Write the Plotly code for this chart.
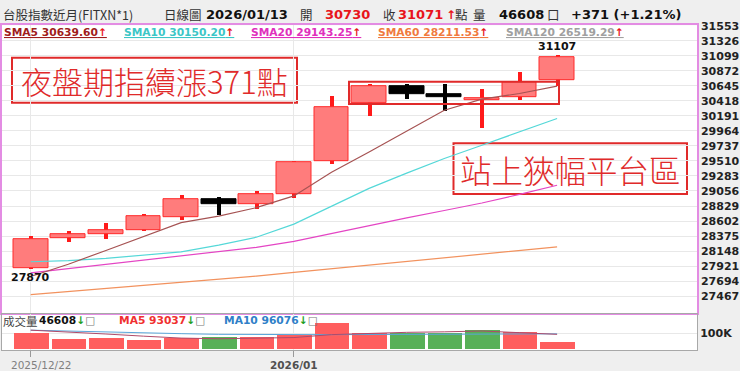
import plotly.graph_objects as go

W, H = 740, 371

# ---------------- data ----------------
idx = list(range(15))
x_tick_pos = [0, 7]
x_tick_text = ["2025/12/22", "2026/01"]

opens = [27887, 28348, 28407, 28466, 28666, 28938, 28853, 29012, 29507, 30375, 30636, 30513, 30428, 30473, 30730]
highs = [28368, 28447, 28571, 28705, 28993, 28963, 29052, 29513, 30488, 30672, 30676, 30676, 30598, 30850, 31107]
lows = [27870, 28281, 28333, 28447, 28615, 28689, 28779, 28953, 29462, 30190, 30449, 30265, 30003, 30424, 30636]
closes = [28333, 28407, 28466, 28680, 28938, 28863, 29012, 29487, 30315, 30636, 30520, 30470, 30455, 30700, 31071]

sma5 = [27764, 27949, 28158, 28367, 28577, 28677, 28804, 28982, 29339, 29645, 29963, 30275, 30443, 30528, 30640]
sma10 = [27987, 28004, 28037, 28088, 28137, 28239, 28358, 28556, 28825, 29095, 29325, 29547, 29747, 29948, 30150]
sma20 = [27819, 27883, 27946, 28012, 28076, 28141, 28205, 28294, 28414, 28536, 28650, 28761, 28875, 29005, 29143]
sma60 = [27492, 27538, 27585, 27632, 27678, 27725, 27771, 27828, 27883, 27938, 27993, 28046, 28101, 28155, 28211]
sma_names = ["SMA5", "SMA10", "SMA20", "SMA60", "SMA120"]
sma_last = [30639.60, 30150.20, 29143.25, 28211.53, 26519.29]

volumes = [95600, 63700, 69600, 54300, 69600, 75500, 75500, 83800, 158000, 95600, 99000, 99000, 119000, 103000, 46608]
vol_ma5 = [118000, 108000, 95000, 82000, 70600, 66500, 68700, 73700, 91300, 98400, 105000, 108000, 113000, 103000, 93037]
vol_ma10 = [118000, 112000, 106000, 101000, 97000, 93000, 91000, 90000, 91000, 92000, 93000, 94000, 95000, 96500, 96076]

price_ticks = [27467, 27694, 27921, 28148, 28375, 28602, 28829, 29056, 29283, 29510,
               29737, 29964, 30191, 30418, 30645, 30872, 31099, 31326, 31553]
price_tick_text = [str(v) for v in price_ticks]
vol_ticks = [100000]
vol_tick_text = ["100K"]

title_name = "台股指數近月(FITXN*1)"
chart_kind = "日線圖"
chart_date = "2026/01/13"
note1 = "夜盤期指續漲371點"
note2 = "站上狹幅平台區"

# ---------------- helpers ----------------
def px(x):
    return x / W


def py(y):
    return 1 - y / H


NUM = "DejaVu Sans"
CJK = "Noto Sans CJK TC"
RED = "#E8141B"

up = [c >= o for o, c in zip(opens, closes)]
wick_colors = ["#FF1A1A" if u else "#000000" for u in up]
body_fill = ["#FF7C7C" if u else "#000000" for u in up]
body_line = ["#FF2A2A" if u else "#000000" for u in up]
body_base = [min(o, c) for o, c in zip(opens, closes)]
body_h = [abs(c - o) for o, c in zip(opens, closes)]
wick_h = [h - l for h, l in zip(highs, lows)]
vol_colors = ["#FF5E5E" if (i == 0 or closes[i] >= closes[i - 1]) else "#58B058" for i in idx]

fig = go.Figure()

# moving averages
for vals, col in [(sma60, "#F2925E"), (sma20, "#E445C4"), (sma10, "#55D8D8"), (sma5, "#A65353")]:
    fig.add_trace(go.Scatter(x=idx, y=vals, mode="lines", line=dict(color=col, width=1.2),
                             xaxis="x", yaxis="y", hoverinfo="skip", showlegend=False))

# candles: wicks then bodies
fig.add_trace(go.Bar(x=idx, y=wick_h, base=lows, width=0.11, marker=dict(color=wick_colors, line=dict(width=0)),
                     xaxis="x", yaxis="y", hoverinfo="skip", showlegend=False))
fig.add_trace(go.Bar(x=idx, y=body_h, base=body_base, width=0.93,
                     marker=dict(color=body_fill, line=dict(color=body_line, width=1)),
                     xaxis="x", yaxis="y", hoverinfo="skip", showlegend=False))

# volume
fig.add_trace(go.Bar(x=idx, y=volumes, width=0.92, marker=dict(color=vol_colors, line=dict(width=0)),
                     xaxis="x2", yaxis="y2", hoverinfo="skip", showlegend=False))
fig.add_trace(go.Scatter(x=idx, y=vol_ma10, mode="lines", line=dict(color="#5AA6DA", width=1),
                         xaxis="x2", yaxis="y2", hoverinfo="skip", showlegend=False))
fig.add_trace(go.Scatter(x=idx, y=vol_ma5, mode="lines", line=dict(color="#B04A6A", width=1),
                         xaxis="x2", yaxis="y2", hoverinfo="skip", showlegend=False))

xr = [(1.5 - 30.7) / 37.6, (697 - 30.7) / 37.6]
PINK = "#E38CE3"
GRID = "#E8E8E8"

fig.update_layout(
    width=W, height=H, margin=dict(l=0, r=0, t=0, b=0),
    paper_bgcolor="#EFEFEF", plot_bgcolor="#FFFFFF",
    barmode="overlay", bargap=0, showlegend=False,
    xaxis=dict(domain=[px(1.5), px(697)], range=xr, anchor="y", tickvals=x_tick_pos,
               showticklabels=False, showgrid=True, gridcolor=GRID, zeroline=False,
               showline=True, linecolor=PINK, linewidth=1.5, mirror=True, fixedrange=True),
    yaxis=dict(domain=[py(312), py(19.5)], range=[27214, 31560], anchor="x", side="right",
               tickvals=price_ticks, ticktext=price_tick_text, showgrid=True, gridcolor=GRID,
               zeroline=False, showline=True, linecolor=PINK, linewidth=1.5, mirror=True,
               tickfont=dict(family=NUM, size=11, color="#222", weight="bold"), fixedrange=True),
    xaxis2=dict(domain=[px(1.5), px(697)], range=xr, anchor="y2", tickvals=x_tick_pos,
                showticklabels=False, ticks="outside", ticklen=6, tickcolor="#999",
                showgrid=True, gridcolor=GRID, zeroline=False, showline=True, linecolor="#A8A8A8",
                mirror=True, fixedrange=True),
    yaxis2=dict(domain=[py(350), py(313.5)], range=[-2950, 212400], anchor="x2", side="right",
                tickvals=vol_ticks, ticktext=vol_tick_text, showgrid=True, gridcolor=GRID,
                zeroline=False, showline=True, linecolor="#A8A8A8", mirror=True,
                tickfont=dict(family=NUM, size=11, color="#222", weight="bold"), fixedrange=True),
)

shapes = [
    dict(type="rect", xref="paper", yref="paper", x0=px(12), x1=px(297), y0=py(98.3), y1=py(52.7),
         line=dict(color="#E02A2A", width=2), fillcolor="white", layer="between"),
    dict(type="rect", xref="paper", yref="paper", x0=px(453.5), x1=px(687), y0=py(191), y1=py(139.5),
         line=dict(color="#E02A2A", width=2), fillcolor="white", layer="between"),
    dict(type="rect", xref="paper", yref="paper", x0=px(349), x1=px(559), y0=py(99.5), y1=py(77),
         line=dict(color="#E02A2A", width=2), fillcolor="rgba(0,0,0,0)", layer="above"),
]
fig.update_layout(shapes=shapes)

ann = []


def txt(x, y, s, color="#333", size=12, family=NUM, bold=False, xanchor="left", weight=None):
    w = weight if weight is not None else ("bold" if bold else "normal")
    ann.append(dict(xref="paper", yref="paper", x=px(x), y=py(y), text=s, showarrow=False,
                    xanchor=xanchor, yanchor="middle",
                    font=dict(family=family, size=size, color=color, weight=w)))


# header
chg = closes[-1] - closes[-2]
pct = chg / closes[-2] * 100
txt(1, 9, title_name, "#333", 12.5, CJK)
txt(162, 9, chart_kind, "#333", 12.5, CJK)
txt(204, 9, chart_date, "#111", 13, NUM, True)
txt(298, 9, "開", "#333", 12.5, CJK)
txt(323, 9, str(opens[-1]), RED, 13, NUM, True)
txt(381, 9, "收", "#333", 12.5, CJK)
txt(396, 9, str(closes[-1]), RED, 13, NUM, True)
txt(444, 9, "↑", RED, 12, NUM, True)
txt(453, 9, "點", "#333", 12.5, CJK)
txt(471, 9, "量", "#333", 12.5, CJK)
txt(497, 9, str(volumes[-1]), "#111", 13, NUM, True)
txt(545, 9, "口", "#333", 12.5, CJK)
txt(569, 9, f"{chg:+d} ({pct:+.2f}%)", "#111", 13, NUM, True)

# SMA legend row
leg_x = [2, 122, 249, 376, 504]
leg_c = ["#A01C1C", "#3CC6C6", "#E030BC", "#F07A40", "#A0A0A0"]
for name, val, x, c in zip(sma_names, sma_last, leg_x, leg_c):
    txt(x, 27, f"<u>{name} {val:.2f}<span style='color:{RED}'>↑</span></u>", c, 10.7, NUM, True)

# volume header
DOWN = "<span style='color:#1E9E1E'>↓</span><span style='color:#777'>□</span>"
txt(1, 320, "成交量", "#444", 11.5, CJK)
txt(37, 320, f"{volumes[-1]}{DOWN}", "#111", 10.7, NUM, True)
txt(117, 320, f"MA5 {vol_ma5[-1]}{DOWN}", "#F03030", 10.7, NUM, True)
txt(222, 320, f"MA10 {vol_ma10[-1]}{DOWN}", "#2F80C8", 10.7, NUM, True)

# big notes
txt(154.5, 75.5, note1, "#E02A2A", 31, CJK, False, "center", weight=300)
txt(570, 165.5, note2, "#E02A2A", 31.5, CJK, False, "center", weight=300)

# x-axis date labels
ann.append(dict(xref="x2", yref="paper", x=x_tick_pos[0], y=py(365), text=x_tick_text[0], showarrow=False,
                xanchor="left", yanchor="middle", xshift=-22,
                font=dict(family=NUM, size=10.5, color="#808080")))
ann.append(dict(xref="x2", yref="paper", x=x_tick_pos[1], y=py(365), text=x_tick_text[1], showarrow=False,
                xanchor="center", yanchor="middle",
                font=dict(family=NUM, size=10.5, color="#505050", weight="bold")))

# low / high labels
ann.append(dict(xref="x", yref="y", x=0, y=min(lows), text=str(min(lows)), showarrow=False,
                xanchor="center", yanchor="top", yshift=1,
                font=dict(family=NUM, size=11, color="#111", weight="bold")))
ann.append(dict(xref="x", yref="y", x=14, y=max(highs), text=str(max(highs)), showarrow=False,
                xanchor="center", yanchor="bottom", yshift=0,
                font=dict(family=NUM, size=11, color="#111", weight="bold")))

fig.update_layout(annotations=ann)

fig.write_html("out.html", config={"displayModeBar": False},
               post_script="document.body.style.margin='0';document.body.style.background='#EFEFEF';")
